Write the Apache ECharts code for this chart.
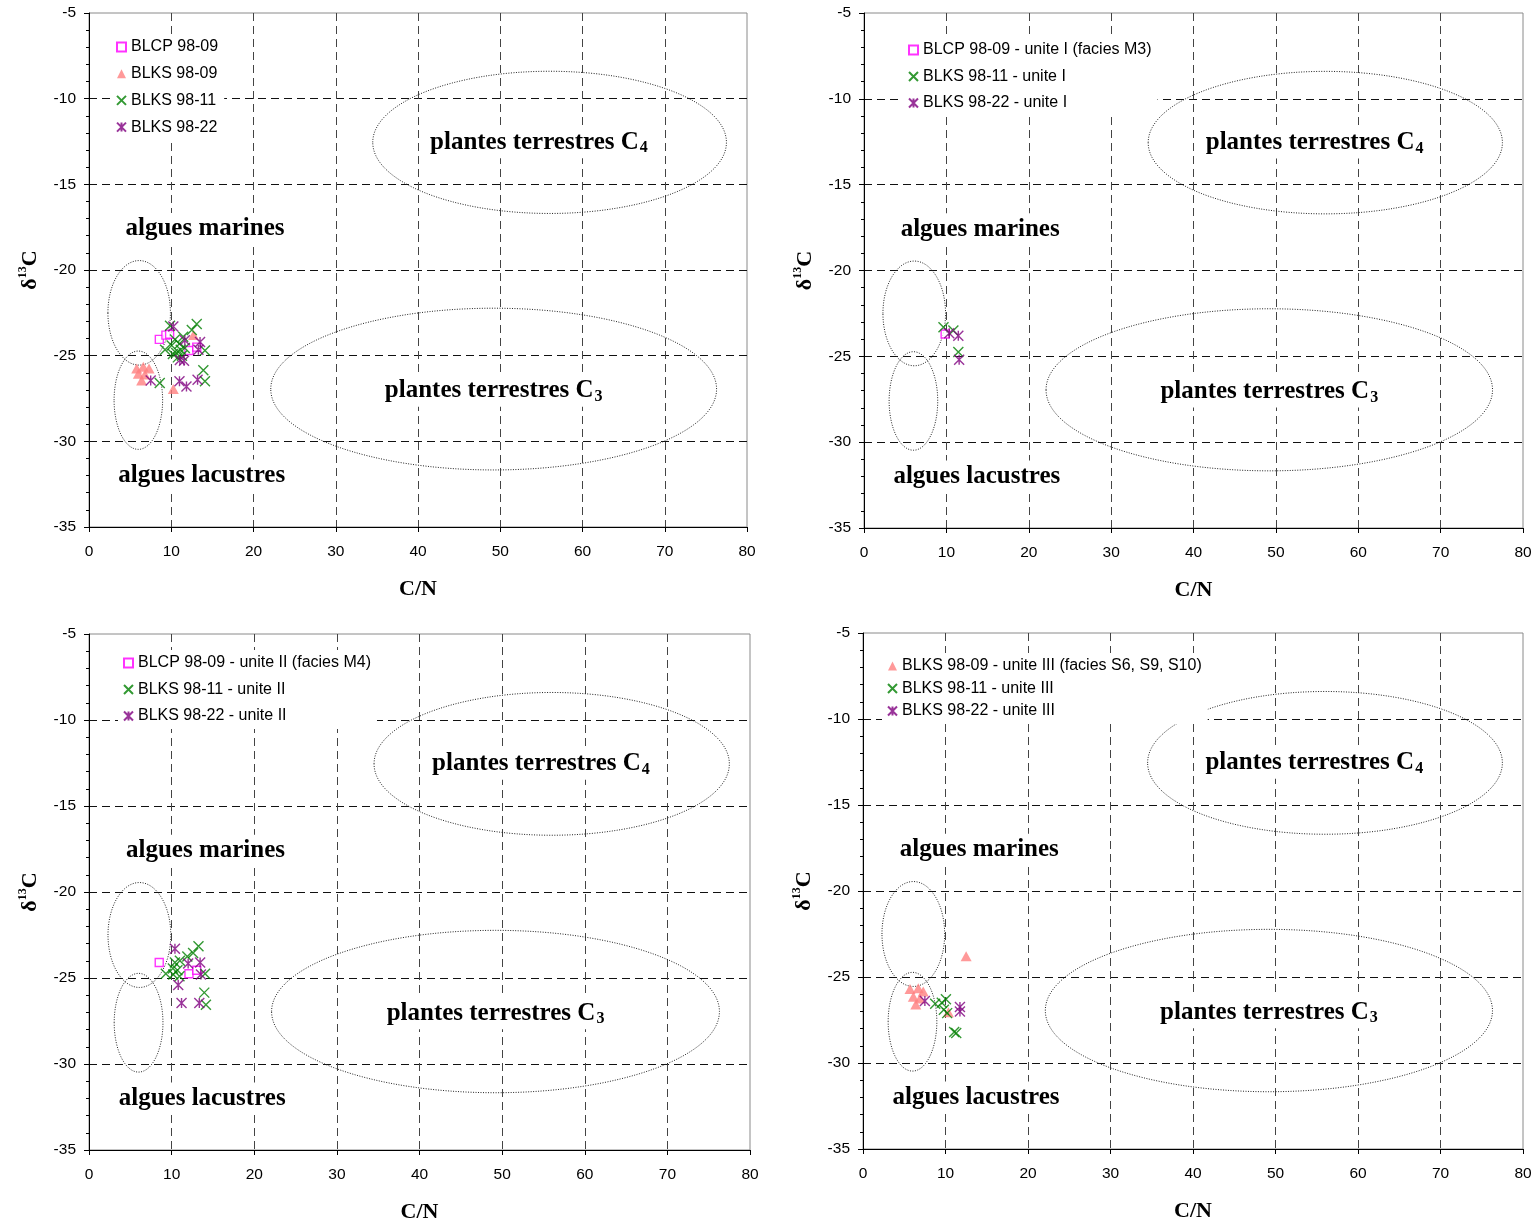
<!DOCTYPE html>
<html><head><meta charset="utf-8">
<script src="https://cdn.jsdelivr.net/npm/echarts@6/dist/echarts.min.js"></script>
<style>html,body{margin:0;padding:0;background:#fff}#c{width:1538px;height:1226px}</style>
</head><body><div id="c"></div>
<script>
// ---------- DATA (C/N, delta13C) ----------
const xTickValues = [0, 10, 20, 30, 40, 50, 60, 70, 80];
const yTickValues = [-35, -30, -25, -20, -15, -10, -5];

// Panel 1: all samples
const p1_BLCP_9809 = [[8.55,-24.05],[9.35,-23.8],[9.8,-23.75],[12.15,-24.7],[13.1,-24.5]];
const p1_BLKS_9809 = [[5.8,-25.75],[6.6,-25.65],[7.3,-25.75],[6.0,-26.05],[6.8,-26.1],[6.4,-26.45],[10.25,-26.95],[12.7,-23.8]];
const p1_BLKS_9811 = [[13.1,-23.15],[12.5,-23.5],[9.85,-23.25],[9.25,-24.65],[10.05,-24.4],[10.45,-24.05],[11.0,-24.3],[11.15,-24.65],[10.6,-24.85],[11.45,-23.9],[11.65,-24.55],[14.1,-24.7],[13.9,-25.85],[14.1,-26.5],[8.6,-26.6],[10.8,-25.1],[11.3,-25.0],[10.2,-24.9]];
const p1_BLKS_9822 = [[10.25,-23.3],[11.65,-24.1],[13.5,-24.2],[13.3,-24.65],[11.05,-25.25],[11.55,-25.3],[7.5,-26.45],[11.0,-26.5],[11.85,-26.8],[13.2,-26.4]];

// Panel 2: unite I
const p2_BLCP_9809 = [[9.85,-23.7]];
const p2_BLKS_9811 = [[9.65,-23.3],[10.85,-23.5],[11.45,-24.75]];
const p2_BLKS_9822 = [[10.35,-23.65],[11.45,-23.8],[11.55,-25.2]];

// Panel 3: unite II
const p3_BLCP_9809 = [[8.5,-24.1],[12.1,-24.75],[13.05,-24.55]];
const p3_BLKS_9811 = [[13.25,-23.15],[12.6,-23.55],[11.9,-23.75],[11.0,-24.0],[10.4,-24.1],[10.15,-24.45],[9.3,-24.75],[10.7,-24.55],[10.95,-24.9],[14.05,-24.75],[13.95,-25.85],[14.15,-26.55],[10.2,-24.8]];
const p3_BLKS_9822 = [[10.4,-23.3],[12.0,-24.15],[13.45,-24.1],[10.8,-25.4],[11.2,-26.45],[13.35,-26.45],[13.55,-24.8]];

// Panel 4: unite III
const p4_BLKS_9809 = [[5.7,-25.7],[6.7,-25.65],[7.3,-25.85],[6.1,-26.15],[6.9,-26.25],[6.4,-26.6],[12.5,-23.8],[10.35,-27.05]];
const p4_BLKS_9811 = [[8.75,-26.55],[9.55,-26.5],[10.05,-26.3],[9.8,-26.9],[10.2,-27.1],[11.3,-28.25],[11.05,-28.2]];
const p4_BLKS_9822 = [[7.5,-26.4],[11.75,-26.75],[11.75,-27.0]];

// Domain ellipses: [centre C/N, centre d13C, half-width, half-height]
const domainEllipses = [[56.0,-12.55,21.5,4.15],[49.2,-26.95,27.1,4.72],[6.1,-22.5,3.8,3.05],[6.0,-27.6,2.95,2.87]];
// Domain labels: [C/N, d13C, text]
const domainLabels = [
  [54.7,-12.55,'{n|plantes terrestres C}{s|4}'],
  [49.2,-27.05,'{n|plantes terrestres C}{s|3}'],
  [14.1,-17.6,'{n|algues marines}'],
  [13.7,-32.0,'{n|algues lacustres}']
];

// ---------- STYLES ----------
const KIND = {
  sq: {symbol:'rect', symbolSize:8, itemStyle:{color:'#ffffff', borderColor:'#FF00FF', borderWidth:1.4}},
  tri:{symbol:'triangle', symbolSize:[11,10], itemStyle:{color:'#FF8080'}},
  x:  {symbol:'path://M0,0L10,10M10,0L0,10', symbolSize:10, itemStyle:{color:'#008000', borderColor:'#008000', borderWidth:1.4}},
  st: {symbol:'path://M0,0L10,10M10,0L0,10M5,0L5,10', symbolSize:10, itemStyle:{color:'#800080', borderColor:'#800080', borderWidth:1.4}}
};

const panels = [
  {grid:{left:89,top:13,width:658,height:514}, legend:{left:111,top:34,itemGap:10.7},
   series:[['BLCP 98-09','sq',p1_BLCP_9809],['BLKS 98-09','tri',p1_BLKS_9809],['BLKS 98-11','x',p1_BLKS_9811],['BLKS 98-22','st',p1_BLKS_9822]]},
  {grid:{left:864,top:13,width:659,height:515}, legend:{left:903,top:37,itemGap:10.5},
   series:[['BLCP 98-09 - unite I (facies M3)','sq',p2_BLCP_9809],['BLKS 98-11 - unite I','x',p2_BLKS_9811],['BLKS 98-22 - unite I','st',p2_BLKS_9822]]},
  {grid:{left:89,top:634,width:661,height:516}, legend:{left:118,top:650,itemGap:10.5},
   series:[['BLCP 98-09 - unite II (facies M4)','sq',p3_BLCP_9809],['BLKS 98-11 - unite II','x',p3_BLKS_9811],['BLKS 98-22 - unite II','st',p3_BLKS_9822]]},
  {grid:{left:863,top:633,width:660,height:516}, legend:{left:882,top:653,itemGap:6.5},
   series:[['BLKS 98-09 - unite III (facies S6, S9, S10)','tri',p4_BLKS_9809],['BLKS 98-11 - unite III','x',p4_BLKS_9811],['BLKS 98-22 - unite III','st',p4_BLKS_9822]]}
];

const SERIF = '"Liberation Serif", "Times New Roman", serif';
const SANS = '"Liberation Sans", Arial, sans-serif';

const option = {animation:false, backgroundColor:'#fff', grid:[], xAxis:[], yAxis:[], legend:[], series:[]};

panels.forEach((p, i) => {
  option.grid.push(Object.assign({show:true, borderColor:'#8a8a8a', borderWidth:1, backgroundColor:'transparent'}, p.grid));
  option.xAxis.push({
    gridIndex:i, type:'value', min:0, max:80, interval:10,
    name:'C/N', nameLocation:'middle', nameGap:51,
    nameTextStyle:{fontFamily:SERIF, fontWeight:'bold', fontSize:22, color:'#000'},
    axisLine:{show:true, onZero:false, lineStyle:{color:'#000', width:1}},
    axisTick:{show:true, length:5, lineStyle:{color:'#000'}},
    axisLabel:{fontFamily:SANS, fontSize:15.5, color:'#000', margin:17},
    splitLine:{show:true, showMinLine:false, showMaxLine:false, lineStyle:{color:'#444', type:[8,5], width:1}}
  });
  option.yAxis.push({
    gridIndex:i, type:'value', min:-35, max:-5, interval:5,
    name:'{d|δ}{sup|13}{d|C}', nameLocation:'middle', nameGap:46, nameRotate:90,
    nameTextStyle:{rich:{
      d:{fontFamily:SERIF, fontWeight:'bold', fontSize:22, color:'#000', lineHeight:26},
      sup:{fontFamily:SERIF, fontWeight:'bold', fontSize:12, color:'#000', verticalAlign:'top', lineHeight:26}
    }},
    axisLine:{show:true, onZero:false, lineStyle:{color:'#000', width:1}},
    axisTick:{show:true, length:5, lineStyle:{color:'#000'}},
    minorTick:{show:true, splitNumber:5, length:3, lineStyle:{color:'#000'}},
    axisLabel:{fontFamily:SANS, fontSize:15.5, color:'#000', margin:13},
    splitLine:{show:true, showMinLine:false, showMaxLine:false, lineStyle:{color:'#111', type:[8,5], width:1}}
  });
  option.legend.push({
    left:p.legend.left, top:p.legend.top, orient:'vertical', itemGap:p.legend.itemGap,
    itemWidth:9, itemHeight:9, padding:[5,6,5,5], backgroundColor:'#fff',
    selectedMode:false, z:20,
    textStyle:{fontFamily:SANS, fontSize:16, color:'#000', lineHeight:16},
    data:p.series.map(s => s[0])
  });
  // domain ellipses
  option.series.push({
    type:'custom', xAxisIndex:i, yAxisIndex:i, silent:true, z:3, clip:false,
    data:domainEllipses,
    renderItem:(params, api) => {
      const c = api.coord([api.value(0), api.value(1)]);
      const s = api.size([api.value(2), api.value(3)]);
      return {type:'ellipse', shape:{cx:c[0], cy:c[1], rx:s[0], ry:s[1]},
        style:{fill:null, stroke:'#222', lineWidth:1, lineDash:[1,1.5]}};
    }
  });
  // domain labels
  option.series.push({
    type:'custom', xAxisIndex:i, yAxisIndex:i, silent:true, z:4, clip:false,
    data:domainLabels,
    renderItem:(params, api) => {
      const c = api.coord([api.value(0), api.value(1)]);
      return {type:'text', x:c[0], y:c[1], style:{
        text:domainLabels[params.dataIndex][2], align:'center', verticalAlign:'middle',
        backgroundColor:'#fff', padding:[2,3],
        rich:{
          n:{fontFamily:SERIF, fontWeight:'bold', fontSize:25, fill:'#000', lineHeight:28},
          s:{fontFamily:SERIF, fontWeight:'bold', fontSize:16, fill:'#000', lineHeight:28, verticalAlign:'bottom', padding:[0,0,0,1]}
        }
      }};
    }
  });
  p.series.forEach(s => {
    const k = KIND[s[1]];
    option.series.push({
      type:'scatter', name:s[0], xAxisIndex:i, yAxisIndex:i, z:10,
      symbol:k.symbol, symbolSize:k.symbolSize, itemStyle:k.itemStyle,
      data:s[2]
    });
  });
});

const chart = echarts.init(document.getElementById('c'), null, {renderer:'canvas'});
chart.setOption(option);
</script>
</body></html>
